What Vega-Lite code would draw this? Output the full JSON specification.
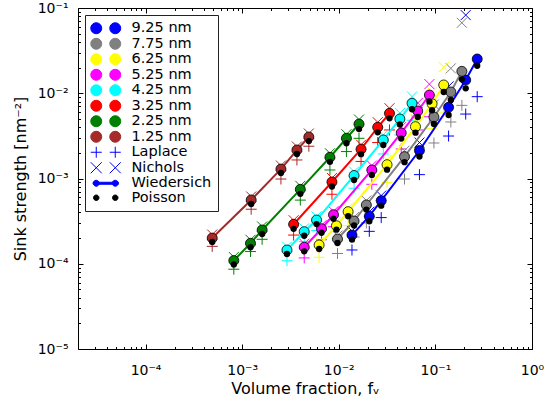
{
  "$schema": "https://vega.github.io/schema/vega-lite/v6.json",
  "width": 454,
  "height": 341,
  "autosize": "none",
  "padding": {"left": 78, "top": 8, "right": 24, "bottom": 56},
  "background": "white",
  "config": {
    "font": "DejaVu Sans",
    "view": {"stroke": null},
    "axis": {
      "grid": false,
      "domainColor": "black",
      "tickColor": "black",
      "labelColor": "black",
      "titleColor": "black",
      "labelFont": "DejaVu Sans",
      "titleFont": "DejaVu Sans",
      "labelFontSize": 14,
      "titleFontSize": 16,
      "titleFontWeight": "normal",
      "labelOverlap": false,
      "labelFlush": false,
      "labelBound": false
    }
  },
  "data": {
    "values": [
      {"r": "9.25 nm", "f": 0.0137, "sim": 0.000217, "poisson": 0.000192, "laplace": 0.000145, "nichols": 0.000242},
      {"r": "9.25 nm", "f": 0.0207, "sim": 0.000361, "poisson": 0.000315, "laplace": 0.00024, "nichols": 0.000407},
      {"r": "9.25 nm", "f": 0.0275, "sim": 0.00055, "poisson": 0.00048, "laplace": 0.000348, "nichols": 0.00063},
      {"r": "9.25 nm", "f": 0.0684, "sim": 0.00213, "poisson": 0.00181, "laplace": 0.00111, "nichols": 0.00264},
      {"r": "9.25 nm", "f": 0.137, "sim": 0.00684, "poisson": 0.00556, "laplace": 0.00315, "nichols": 0.01205},
      {"r": "9.25 nm", "f": 0.206, "sim": 0.01429, "poisson": 0.01143, "laplace": 0.0057, "nichols": 0.0826},
      {"r": "9.25 nm", "f": 0.271, "sim": 0.02523, "poisson": 0.021, "laplace": 0.00912, "nichols": null},
      {"r": "7.75 nm", "f": 0.0097, "sim": 0.000195, "poisson": 0.000175, "laplace": 0.000132, "nichols": 0.000214},
      {"r": "7.75 nm", "f": 0.0144, "sim": 0.000317, "poisson": 0.000281, "laplace": 0.000206, "nichols": 0.000353},
      {"r": "7.75 nm", "f": 0.0193, "sim": 0.000489, "poisson": 0.000432, "laplace": 0.000301, "nichols": 0.000552},
      {"r": "7.75 nm", "f": 0.0479, "sim": 0.001803, "poisson": 0.001553, "laplace": 0.000986, "nichols": 0.00212},
      {"r": "7.75 nm", "f": 0.0966, "sim": 0.00526, "poisson": 0.00436, "laplace": 0.00261, "nichols": 0.00738},
      {"r": "7.75 nm", "f": 0.1445, "sim": 0.01035, "poisson": 0.00834, "laplace": 0.0046, "nichols": 0.0196},
      {"r": "7.75 nm", "f": 0.188, "sim": 0.01807, "poisson": 0.01456, "laplace": 0.00721, "nichols": 0.0671},
      {"r": "6.25 nm", "f": 0.00626, "sim": 0.000166, "poisson": 0.000149, "laplace": 0.000119, "nichols": 0.000182},
      {"r": "6.25 nm", "f": 0.00946, "sim": 0.000279, "poisson": 0.000251, "laplace": 0.000197, "nichols": 0.000311},
      {"r": "6.25 nm", "f": 0.0125, "sim": 0.000408, "poisson": 0.000361, "laplace": 0.00028, "nichols": 0.000455},
      {"r": "6.25 nm", "f": 0.0316, "sim": 0.001452, "poisson": 0.001268, "laplace": 0.0009, "nichols": 0.00166},
      {"r": "6.25 nm", "f": 0.0622, "sim": 0.004055, "poisson": 0.00345, "laplace": 0.0023, "nichols": 0.00497},
      {"r": "6.25 nm", "f": 0.0924, "sim": 0.00753, "poisson": 0.00632, "laplace": 0.00384, "nichols": 0.0103},
      {"r": "6.25 nm", "f": 0.122, "sim": 0.0125, "poisson": 0.01035, "laplace": 0.00587, "nichols": 0.0203},
      {"r": "5.25 nm", "f": 0.00439, "sim": 0.0001563, "poisson": 0.00014, "laplace": 0.000117, "nichols": 0.000172},
      {"r": "5.25 nm", "f": 0.00663, "sim": 0.0002576, "poisson": 0.000231, "laplace": 0.000191, "nichols": 0.000283},
      {"r": "5.25 nm", "f": 0.00882, "sim": 0.0003758, "poisson": 0.000337, "laplace": 0.000272, "nichols": 0.000413},
      {"r": "5.25 nm", "f": 0.022, "sim": 0.001259, "poisson": 0.0011, "laplace": 0.000855, "nichols": 0.00142},
      {"r": "5.25 nm", "f": 0.0443, "sim": 0.00342, "poisson": 0.00294, "laplace": 0.00222, "nichols": 0.00402},
      {"r": "5.25 nm", "f": 0.0657, "sim": 0.00619, "poisson": 0.00527, "laplace": 0.00371, "nichols": 0.00769},
      {"r": "5.25 nm", "f": 0.0867, "sim": 0.00953, "poisson": 0.008, "laplace": 0.0053, "nichols": 0.0128},
      {"r": "4.25 nm", "f": 0.00291, "sim": 0.0001449, "poisson": 0.00013, "laplace": 0.0001084, "nichols": 0.000159},
      {"r": "4.25 nm", "f": 0.00439, "sim": 0.0002377, "poisson": 0.000213, "laplace": 0.0001816, "nichols": 0.000261},
      {"r": "4.25 nm", "f": 0.00589, "sim": 0.0003258, "poisson": 0.000292, "laplace": 0.0002455, "nichols": 0.000358},
      {"r": "4.25 nm", "f": 0.0144, "sim": 0.001084, "poisson": 0.00096, "laplace": 0.000769, "nichols": 0.001208},
      {"r": "4.25 nm", "f": 0.0289, "sim": 0.002831, "poisson": 0.00247, "laplace": 0.00194, "nichols": 0.00324},
      {"r": "4.25 nm", "f": 0.0429, "sim": 0.004989, "poisson": 0.0043, "laplace": 0.00324, "nichols": 0.00586},
      {"r": "4.25 nm", "f": 0.0573, "sim": 0.00762, "poisson": 0.00649, "laplace": 0.00482, "nichols": 0.00914},
      {"r": "3.25 nm", "f": 0.00341, "sim": 0.0002904, "poisson": 0.000257, "laplace": 0.000217, "nichols": 0.000324},
      {"r": "3.25 nm", "f": 0.0085, "sim": 0.00091, "poisson": 0.000805, "laplace": 0.000653, "nichols": 0.001014},
      {"r": "3.25 nm", "f": 0.017, "sim": 0.002208, "poisson": 0.00193, "laplace": 0.001585, "nichols": 0.00249},
      {"r": "3.25 nm", "f": 0.0253, "sim": 0.00399, "poisson": 0.00348, "laplace": 0.00264, "nichols": 0.00457},
      {"r": "3.25 nm", "f": 0.0335, "sim": 0.00582, "poisson": 0.00508, "laplace": 0.00371, "nichols": 0.00667},
      {"r": "2.25 nm", "f": 0.00082, "sim": 0.000109, "poisson": 0.000098, "laplace": 0.0000863, "nichols": 0.00012},
      {"r": "2.25 nm", "f": 0.00122, "sim": 0.0001738, "poisson": 0.000156, "laplace": 0.000139, "nichols": 0.000191},
      {"r": "2.25 nm", "f": 0.00161, "sim": 0.0002489, "poisson": 0.0002234, "laplace": 0.0001936, "nichols": 0.0002735},
      {"r": "2.25 nm", "f": 0.004, "sim": 0.000746, "poisson": 0.000661, "laplace": 0.000558, "nichols": 0.00082},
      {"r": "2.25 nm", "f": 0.0081, "sim": 0.001774, "poisson": 0.00157, "laplace": 0.001259, "nichols": 0.001977},
      {"r": "2.25 nm", "f": 0.012, "sim": 0.002965, "poisson": 0.00259, "laplace": 0.00207, "nichols": 0.0033},
      {"r": "2.25 nm", "f": 0.0162, "sim": 0.004355, "poisson": 0.0038, "laplace": 0.00296, "nichols": 0.00492},
      {"r": "1.25 nm", "f": 0.00049, "sim": 0.0002, "poisson": 0.00018, "laplace": 0.00016, "nichols": 0.00022},
      {"r": "1.25 nm", "f": 0.00124, "sim": 0.00056, "poisson": 0.000502, "laplace": 0.000436, "nichols": 0.000615},
      {"r": "1.25 nm", "f": 0.00252, "sim": 0.00129, "poisson": 0.00116, "laplace": 0.000986, "nichols": 0.00142},
      {"r": "1.25 nm", "f": 0.00369, "sim": 0.00216, "poisson": 0.00194, "laplace": 0.00165, "nichols": 0.00237},
      {"r": "1.25 nm", "f": 0.0049, "sim": 0.00307, "poisson": 0.00275, "laplace": 0.00239, "nichols": 0.00337}
    ]
  },
  "encoding": {
    "color": {
      "field": "r",
      "type": "nominal",
      "scale": {
        "domain": ["9.25 nm", "7.75 nm", "6.25 nm", "5.25 nm", "4.25 nm", "3.25 nm", "2.25 nm", "1.25 nm", "Laplace", "Nichols", "Wiedersich", "Poisson"],
        "range": ["#0000ff", "#808080", "#ffff00", "#ff00ff", "#00ffff", "#ff0000", "#008000", "#a52a2a", "#0000ff", "#0000ff", "#0000ff", "#000000"]
      },
      "legend": {
        "title": null,
        "orient": "none",
        "legendX": 7,
        "legendY": 7,
        "direction": "vertical",
        "fillColor": "white",
        "strokeColor": "#222222",
        "padding": 6,
        "cornerRadius": 0,
        "labelFont": "DejaVu Sans",
        "labelFontSize": 14.5,
        "labelColor": "black",
        "symbolSize": 100,
        "symbolStrokeWidth": 1,
        "symbolOffset": 7.5,
        "labelOffset": 18.5,
        "rowPadding": -0.5,
        "symbolOpacity": 1,
        "encode": {
          "symbols": {
            "update": {
              "size": {"value": 100},
              "opacity": {"value": 1},
              "shape": {"signal": "indexof(datum.value, 'nm') >= 0 ? 'M-3,0A1.1,1.1,0,1,0,-0.8,0A1.1,1.1,0,1,0,-3,0ZM0.8,0A1.1,1.1,0,1,0,3,0A1.1,1.1,0,1,0,0.8,0Z' : datum.value === 'Laplace' ? 'M-3,0L-0.8,0M-1.9,-1.1L-1.9,1.1M0.8,0L3,0M1.9,-1.1L1.9,1.1' : datum.value === 'Nichols' ? 'M-3,-1.1L-0.8,1.1M-3,1.1L-0.8,-1.1M0.8,-1.1L3,1.1M0.8,1.1L3,-1.1' : datum.value === 'Wiedersich' ? 'M-2.5,-0.2L-2.5,0.2L2.5,0.2L2.5,-0.2ZM-2.5,0A0.6,0.6,0,1,0,-1.3,0A0.6,0.6,0,1,0,-2.5,0ZM1.3,0A0.6,0.6,0,1,0,2.5,0A0.6,0.6,0,1,0,1.3,0Z' : 'M-2.45,0A0.55,0.55,0,1,0,-1.35,0A0.55,0.55,0,1,0,-2.45,0ZM1.35,0A0.55,0.55,0,1,0,2.45,0A0.55,0.55,0,1,0,1.35,0Z'"},
              "fill": {"signal": "['#0000ff','#808080','#ffff00','#ff00ff','#00ffff','#ff0000','#008000','#a52a2a','transparent','transparent','#0000ff','#000000'][indexof(['9.25 nm','7.75 nm','6.25 nm','5.25 nm','4.25 nm','3.25 nm','2.25 nm','1.25 nm','Laplace','Nichols','Wiedersich','Poisson'], datum.value)]"},
              "stroke": {"signal": "['#000000','#000000','#000000','#000000','#000000','#000000','#000000','#000000','#0000ff','#0000ff','transparent','#000000'][indexof(['9.25 nm','7.75 nm','6.25 nm','5.25 nm','4.25 nm','3.25 nm','2.25 nm','1.25 nm','Laplace','Nichols','Wiedersich','Poisson'], datum.value)]"}
            }
          }
        }
      }
    }
  },
  "layer": [
    {
      "mark": {"type": "point", "shape": "M-1,0L1,0M0,-1L0,1", "filled": false, "size": 121, "strokeWidth": 1, "opacity": 1, "clip": true},
      "encoding": {
        "x": {
          "field": "f", "type": "quantitative",
          "scale": {"type": "log", "domain": [0.00002, 1], "nice": false},
          "axis": {
            "orient": "bottom",
            "title": "Volume fraction, fᵥ",
            "values": [0.00002, 0.00003, 0.00004, 0.00005, 0.00006, 0.00007, 0.00008, 0.00009, 0.0001, 0.0002, 0.0003, 0.0004, 0.0005, 0.0006, 0.0007, 0.0008, 0.0009, 0.001, 0.002, 0.003, 0.004, 0.005, 0.006, 0.007, 0.008, 0.009, 0.01, 0.02, 0.03, 0.04, 0.05, 0.06, 0.07, 0.08, 0.09, 0.1, 0.2, 0.3, 0.4, 0.5, 0.6, 0.7, 0.8, 0.9, 1],
            "labelExpr": "abs(log(datum.value)/LN10 - round(log(datum.value)/LN10)) < 0.001 ? '10' + (round(log(datum.value)/LN10) < 0 ? '⁻' : '') + substring('⁰¹²³⁴⁵⁶⁷⁸⁹', abs(round(log(datum.value)/LN10)), abs(round(log(datum.value)/LN10)) + 1) : ''",
            "tickSize": {"condition": {"test": "abs(log(datum.value)/LN10 - round(log(datum.value)/LN10)) < 0.001", "value": -5}, "value": -2.5},
            "labelPadding": 19,
            "titlePadding": 1
          }
        },
        "y": {
          "field": "laplace", "type": "quantitative",
          "scale": {"type": "log", "domain": [0.00001, 0.1], "nice": false},
          "axis": {
            "orient": "left",
            "title": "Sink strength [nm⁻²]",
            "values": [0.00001, 0.00002, 0.00003, 0.00004, 0.00005, 0.00006, 0.00007, 0.00008, 0.00009, 0.0001, 0.0002, 0.0003, 0.0004, 0.0005, 0.0006, 0.0007, 0.0008, 0.0009, 0.001, 0.002, 0.003, 0.004, 0.005, 0.006, 0.007, 0.008, 0.009, 0.01, 0.02, 0.03, 0.04, 0.05, 0.06, 0.07, 0.08, 0.09, 0.1],
            "labelExpr": "abs(log(datum.value)/LN10 - round(log(datum.value)/LN10)) < 0.001 ? '10' + (round(log(datum.value)/LN10) < 0 ? '⁻' : '') + substring('⁰¹²³⁴⁵⁶⁷⁸⁹', abs(round(log(datum.value)/LN10)), abs(round(log(datum.value)/LN10)) + 1) : ''",
            "tickSize": {"condition": {"test": "abs(log(datum.value)/LN10 - round(log(datum.value)/LN10)) < 0.001", "value": -5}, "value": -2.5},
            "labelPadding": 15,
            "titlePadding": 9
          }
        }
      }
    },
    {
      "mark": {"type": "point", "shape": "M-1,-1L1,1M-1,1L1,-1", "filled": false, "size": 100, "strokeWidth": 1, "opacity": 1, "clip": true},
      "encoding": {
        "x": {
          "field": "f", "type": "quantitative",
          "scale": {"type": "log", "domain": [0.00002, 1], "nice": false},
          "axis": {
            "orient": "top",
            "title": null,
            "labels": false,
            "values": [0.00002, 0.00003, 0.00004, 0.00005, 0.00006, 0.00007, 0.00008, 0.00009, 0.0001, 0.0002, 0.0003, 0.0004, 0.0005, 0.0006, 0.0007, 0.0008, 0.0009, 0.001, 0.002, 0.003, 0.004, 0.005, 0.006, 0.007, 0.008, 0.009, 0.01, 0.02, 0.03, 0.04, 0.05, 0.06, 0.07, 0.08, 0.09, 0.1, 0.2, 0.3, 0.4, 0.5, 0.6, 0.7, 0.8, 0.9, 1],
            "tickSize": {"condition": {"test": "abs(log(datum.value)/LN10 - round(log(datum.value)/LN10)) < 0.001", "value": -5}, "value": -2.5}
          }
        },
        "y": {
          "field": "nichols", "type": "quantitative",
          "scale": {"type": "log", "domain": [0.00001, 0.1], "nice": false},
          "axis": {
            "orient": "right",
            "title": null,
            "labels": false,
            "values": [0.00001, 0.00002, 0.00003, 0.00004, 0.00005, 0.00006, 0.00007, 0.00008, 0.00009, 0.0001, 0.0002, 0.0003, 0.0004, 0.0005, 0.0006, 0.0007, 0.0008, 0.0009, 0.001, 0.002, 0.003, 0.004, 0.005, 0.006, 0.007, 0.008, 0.009, 0.01, 0.02, 0.03, 0.04, 0.05, 0.06, 0.07, 0.08, 0.09, 0.1],
            "tickSize": {"condition": {"test": "abs(log(datum.value)/LN10 - round(log(datum.value)/LN10)) < 0.001", "value": -5}, "value": -2.5}
          }
        }
      }
    },
    {
      "mark": {"type": "line", "strokeWidth": 2, "clip": true},
      "encoding": {
        "x": {"field": "f", "type": "quantitative", "scale": {"type": "log", "domain": [0.00002, 1], "nice": false}, "axis": null},
        "y": {"field": "sim", "type": "quantitative", "scale": {"type": "log", "domain": [0.00001, 0.1], "nice": false}, "axis": null}
      }
    },
    {
      "mark": {"type": "point", "shape": "circle", "filled": true, "size": 100, "stroke": "black", "strokeWidth": 0.8, "opacity": 1, "clip": true},
      "encoding": {
        "x": {"field": "f", "type": "quantitative", "scale": {"type": "log", "domain": [0.00002, 1], "nice": false}, "axis": null},
        "y": {"field": "sim", "type": "quantitative", "scale": {"type": "log", "domain": [0.00001, 0.1], "nice": false}, "axis": null}
      }
    },
    {
      "mark": {"type": "point", "shape": "circle", "filled": true, "size": 40, "opacity": 1, "clip": true},
      "encoding": {
        "x": {"field": "f", "type": "quantitative", "scale": {"type": "log", "domain": [0.00002, 1], "nice": false}, "axis": null},
        "y": {"field": "poisson", "type": "quantitative", "scale": {"type": "log", "domain": [0.00001, 0.1], "nice": false}, "axis": null},
        "color": {"value": "black"}
      }
    }
  ],
  "resolve": {"axis": {"x": "independent", "y": "independent"}}
}
